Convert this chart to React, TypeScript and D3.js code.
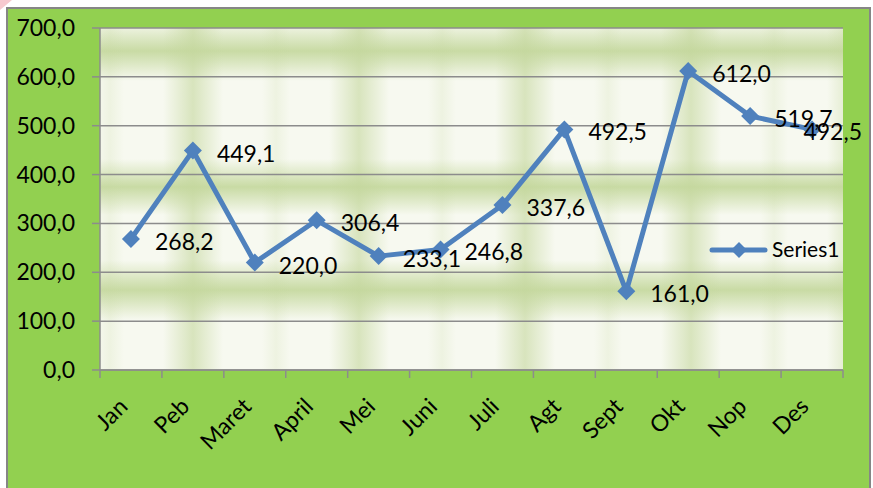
import React from "react";
import * as d3 from "d3";

const categories = ["Jan", "Peb", "Maret", "April", "Mei", "Juni", "Juli", "Agt", "Sept", "Okt", "Nop", "Des"];
const values = [268.2, 449.1, 220.0, 306.4, 233.1, 246.8, 337.6, 492.5, 161.0, 612.0, 519.7, 492.5];
const yTicks = [0, 100, 200, 300, 400, 500, 600, 700];
const seriesName = "Series1";

const W = 873;
const H = 488;
const plot = { left: 100, top: 28, right: 843, bottom: 370 };
const FONT = "Lato, 'Open Sans', sans-serif";
const LINE = "#4F81BD";
const GRID = "#8c8c8c";
const LABEL_LIMIT = 862;

const fmt = (v: number) => v.toFixed(1).replace(".", ",");

export default function App() {
  const x = d3.scaleBand<string>().domain(categories).range([plot.left, plot.right]);
  const y = d3.scaleLinear().domain([0, 700]).range([plot.bottom, plot.top]);
  const px = (c: string) => (x(c) as number) + x.bandwidth() / 2;
  const line = d3
    .line<number>()
    .x((_, i) => px(categories[i]))
    .y((v) => y(v));
  const diamond = (cx: number, cy: number, r: number) =>
    `M${cx},${cy - r}L${cx + r},${cy}L${cx},${cy + r}L${cx - r},${cy}Z`;

  const pw = plot.right - plot.left;
  const ph = plot.bottom - plot.top;
  const TW = 166;
  const TH = 239;

  return (
    <svg width={W} height={H} style={{ position: "absolute", left: 0, top: 0 }}>
      <defs>
        <linearGradient id="vband" x1="0" x2="1" y1="0" y2="0">
          <stop offset="0" stopColor="#c3d69b" stopOpacity="0" />
          <stop offset="0.5" stopColor="#c3d69b" stopOpacity="0.6" />
          <stop offset="1" stopColor="#c3d69b" stopOpacity="0" />
        </linearGradient>
        <linearGradient id="hband" x1="0" x2="0" y1="0" y2="1">
          <stop offset="0" stopColor="#c6d9a0" stopOpacity="0" />
          <stop offset="0.5" stopColor="#c6d9a0" stopOpacity="0.95" />
          <stop offset="1" stopColor="#c6d9a0" stopOpacity="0" />
        </linearGradient>
        <pattern id="tex" patternUnits="userSpaceOnUse" x={193 - TW / 2} y={51} width={TW} height={TH}>
          <rect x={0} y={0} width={TW} height={TH} fill="#f7f9f0" />
          <rect x={0} y={-30} width={TW} height={60} fill="url(#hband)" />
          <rect x={0} y={TH - 30} width={TW} height={60} fill="url(#hband)" />
          <rect x={0} y={136 - 28} width={TW} height={56} fill="url(#hband)" />
          <rect x={TW / 2 - 30} y={0} width={60} height={TH} fill="url(#vband)" />
          <rect x={-14} y={0} width={28} height={TH} fill="url(#vband)" opacity="0.3" />
          <rect x={TW - 14} y={0} width={28} height={TH} fill="url(#vband)" opacity="0.3" />
        </pattern>
      </defs>

      {/* pink corner smear */}
      <polygon points="0,0 12,0 0,10" fill="#f6c9cf" />

      {/* outer green frame */}
      <rect x={7} y={8} width={863} height={H} fill="#92D050" stroke="#868686" strokeWidth={2} />

      {/* plot area */}
      <rect x={plot.left} y={plot.top} width={pw} height={ph} fill="url(#tex)" />

      {/* gridlines */}
      {yTicks.map((t) => (
        <line key={t} x1={plot.left} x2={plot.right} y1={y(t)} y2={y(t)} stroke={GRID} strokeWidth={1.5} />
      ))}

      {/* y axis */}
      <line x1={plot.left} x2={plot.left} y1={plot.top} y2={plot.bottom + 8} stroke={GRID} strokeWidth={1.5} />
      {yTicks.map((t) => (
        <g key={"yt" + t}>
          <line x1={plot.left - 8} x2={plot.left} y1={y(t)} y2={y(t)} stroke={GRID} strokeWidth={1.5} />
          <text x={75} y={y(t) + 8} textAnchor="end" fontFamily={FONT} fontSize={23} fill="#000">
            {fmt(t)}
          </text>
        </g>
      ))}

      {/* x axis */}
      <line x1={plot.left} x2={plot.right} y1={plot.bottom} y2={plot.bottom} stroke={GRID} strokeWidth={1.5} />
      {categories.map((c) => (
        <line
          key={"xt" + c}
          x1={(x(c) as number) + x.bandwidth()}
          x2={(x(c) as number) + x.bandwidth()}
          y1={plot.bottom}
          y2={plot.bottom + 8}
          stroke={GRID}
          strokeWidth={1.5}
        />
      ))}
      {categories.map((c) => (
        <text
          key={"xl" + c}
          transform={`translate(${px(c) - 2},${plot.bottom + 38}) rotate(-45)`}
          textAnchor="end"
          fontFamily={FONT}
          fontSize={23}
          fill="#000"
        >
          {c}
        </text>
      ))}

      {/* series line */}
      <path d={line(values) || ""} fill="none" stroke={LINE} strokeWidth={5} strokeLinejoin="round" />
      {values.map((v, i) => (
        <path key={"m" + i} d={diamond(px(categories[i]), y(v), 9)} fill={LINE} />
      ))}

      {/* data labels */}
      {values.map((v, i) => {
        const lx = px(categories[i]) + 24;
        const overflow = lx + 60 > LABEL_LIMIT;
        return (
          <text
            key={"dl" + i}
            x={overflow ? LABEL_LIMIT : lx}
            y={y(v) + 11}
            textAnchor={overflow ? "end" : "start"}
            fontFamily={FONT}
            fontSize={23}
            fill="#000"
          >
            {fmt(v)}
          </text>
        );
      })}

      {/* legend */}
      <line x1={712} x2={765} y1={250} y2={250} stroke={LINE} strokeWidth={5} strokeLinecap="round" />
      <path d={diamond(739, 250, 8)} fill={LINE} />
      <text x={772} y={257} fontFamily={FONT} fontSize={21} fill="#000">
        {seriesName}
      </text>
    </svg>
  );
}
